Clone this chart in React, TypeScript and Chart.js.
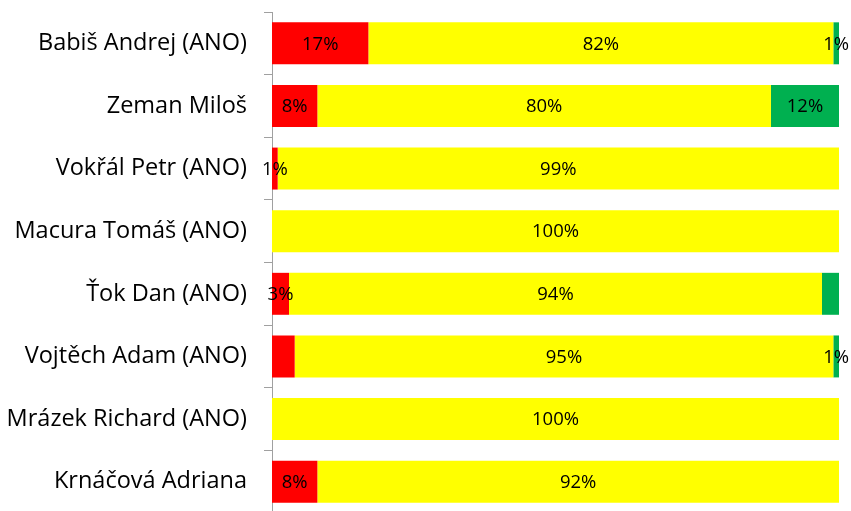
import { useEffect, useRef } from "react";
import { Chart, registerables } from "chart.js";

Chart.register(...registerables);

const categories = [
  "Babiš Andrej (ANO)",
  "Zeman Miloš",
  "Vokřál Petr (ANO)",
  "Macura Tomáš (ANO)",
  "Ťok Dan (ANO)",
  "Vojtěch Adam (ANO)",
  "Mrázek Richard (ANO)",
  "Krnáčová Adriana",
];
const redValues = [17, 8, 1, 0, 3, 4, 0, 8];
const yellowValues = [82, 80, 99, 100, 94, 95, 100, 92];
const greenValues = [1, 12, 0, 0, 3, 1, 0, 0];
const redLabelShown = [true, true, true, false, true, false, false, true];
const yellowLabelShown = [true, true, true, true, true, true, true, true];
const greenLabelShown = [true, true, false, false, false, true, false, false];

const FONT = "'Open Sans', sans-serif";

const labelPlugin = {
  id: "segmentLabels",
  afterDatasetsDraw(chart: any) {
    const ctx = chart.ctx;
    const shown = [redLabelShown, yellowLabelShown, greenLabelShown];
    ctx.save();
    ctx.font = `18.5px ${FONT}`;
    ctx.fillStyle = "#000";
    ctx.textAlign = "center";
    ctx.textBaseline = "middle";
    chart.data.datasets.forEach((ds: any, di: number) => {
      const meta = chart.getDatasetMeta(di);
      meta.data.forEach((el: any, i: number) => {
        const v = ds.data[i];
        if (!v || !shown[di][i]) return;
        const p = el.getCenterPoint();
        ctx.fillText(`${v}%`, p.x, p.y + 1);
      });
    });
    ctx.restore();
  },
};

export default function App() {
  const ref = useRef<HTMLCanvasElement | null>(null);
  useEffect(() => {
    if (!ref.current) return;
    const chart = new Chart(ref.current, {
      type: "bar",
      data: {
        labels: categories,
        datasets: [
          { label: "red", data: redValues, backgroundColor: "#FF0000" },
          { label: "yellow", data: yellowValues, backgroundColor: "#FFFF00" },
          { label: "green", data: greenValues, backgroundColor: "#00B050" },
        ],
      },
      options: {
        indexAxis: "y",
        responsive: false,
        animation: false,
        layout: { padding: { top: 12, bottom: 7, left: 0, right: 12 } },
        datasets: {
          bar: { categoryPercentage: 1, barPercentage: 0.67 },
        },
        plugins: {
          legend: { display: false },
          tooltip: { enabled: false },
        },
        scales: {
          x: { stacked: true, min: 0, max: 100, display: false },
          y: {
            stacked: true,
            afterFit: (scale: any) => {
              scale.width = 272;
              scale.paddingTop = 0;
              scale.paddingBottom = 0;
            },
            grid: {
              display: true,
              drawOnChartArea: false,
              drawTicks: true,
              tickLength: 8,
              color: "#a0a0a0",
              offset: true,
            },
            border: { display: true, color: "#a0a0a0", width: 1 },
            ticks: {
              color: "#000",
              padding: 17,
              font: { size: 23.5, family: FONT },
            },
          },
        },
      },
      plugins: [labelPlugin],
    });
    return () => chart.destroy();
  }, []);
  return (
    <div
      style={{
        position: "fixed",
        left: 0,
        top: 0,
        width: 851,
        height: 511,
        overflow: "hidden",
        background: "#fff",
      }}
    >
      <canvas ref={ref} width={851} height={520} style={{ display: "block" }} />
    </div>
  );
}
